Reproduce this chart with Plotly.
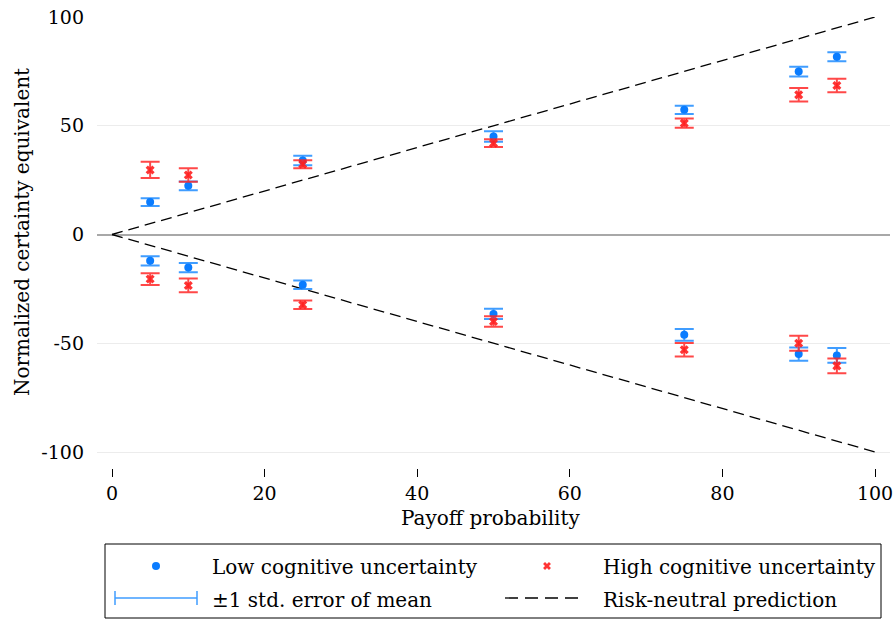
import plotly.graph_objects as go

# Payoff probabilities (percent)
prob = [5, 10, 25, 50, 75, 90, 95]

# Gain lotteries: mean normalized certainty equivalent and standard error
low_gain = [14.9, 22.4, 34.0, 45.1, 57.3, 74.9, 81.7]
low_gain_se = [1.75, 2.0, 2.2, 2.4, 1.9, 2.2, 2.1]
high_gain = [29.7, 27.4, 32.3, 42.0, 51.2, 64.2, 68.5]
high_gain_se = [3.7, 3.1, 1.8, 1.8, 2.1, 3.1, 3.1]

# Loss lotteries
low_loss = [-12.1, -15.2, -23.1, -36.5, -46.1, -55.0, -55.6]
low_loss_se = [2.1, 2.15, 2.0, 2.4, 2.7, 3.1, 3.4]
high_loss = [-20.5, -23.4, -32.3, -40.0, -53.0, -50.0, -60.4]
high_loss_se = [2.7, 3.2, 2.0, 2.4, 3.1, 3.4, 3.4]

# Risk-neutral benchmark
rn_x = [0, 100]
rn_gain = [0, 100]
rn_loss = [0, -100]

# Axis ticks
x_ticks = [0, 20, 40, 60, 80, 100]
y_ticks = [-100, -50, 0, 50, 100]
y_tick_text = ["-100", "-50", "0", "50", "100"]

# Legend entries
legend_labels = ["Low cognitive uncertainty", "High cognitive uncertainty",
                 "\u00b11 std. error of mean", "Risk-neutral prediction"]

W, H = 893, 621
FONT = "DejaVu Serif"
BLUE = "#0a7cff"
BLUE_BAR = "rgba(30,140,255,0.85)"
RED = "rgba(255,30,30,0.9)"
RED_BAR = "rgba(255,40,40,0.85)"
DASH = "11px,6px"


def px_x(p):
    return p / W


def px_y(p):
    return 1 - p / H


fig = go.Figure()

# Risk-neutral prediction lines
for yy in (rn_gain, rn_loss):
    fig.add_trace(go.Scatter(x=rn_x, y=yy, mode="lines",
                             line=dict(color="black", width=1.3, dash=DASH),
                             showlegend=False, hoverinfo="skip"))

# Low cognitive uncertainty
for yy, se in ((low_gain, low_gain_se), (low_loss, low_loss_se)):
    fig.add_trace(go.Scatter(
        x=prob, y=yy, mode="markers",
        marker=dict(symbol="circle", size=8, color=BLUE),
        error_y=dict(type="data", array=se, visible=True, width=9.5,
                     thickness=2, color=BLUE_BAR),
        showlegend=False, cliponaxis=False))

# High cognitive uncertainty
for yy, se in ((high_gain, high_gain_se), (high_loss, high_loss_se)):
    fig.add_trace(go.Scatter(
        x=prob, y=yy, mode="markers",
        marker=dict(symbol="x", size=8, color=RED, line=dict(width=0)),
        error_y=dict(type="data", array=se, visible=True, width=9.5,
                     thickness=2, color=RED_BAR),
        showlegend=False, cliponaxis=False))

# Plot region in pixels
PL, PR, PT, PB = 97, 890, 17, 468
y_low = -100 - (PB - 452) / ((452 - 17) / 200)

# Legend box region in pixels (key axes use pixel units)
LL, LR, LT, LB = 105, 881, 544, 618
row1, row2 = 566, 598

fig.add_trace(go.Scatter(x=[156], y=[row1], mode="markers",
                         marker=dict(symbol="circle", size=8, color=BLUE),
                         xaxis="x2", yaxis="y2", showlegend=False,
                         hoverinfo="skip"))
fig.add_trace(go.Scatter(x=[547], y=[row1], mode="markers",
                         marker=dict(symbol="x", size=7, color=RED,
                                     line=dict(width=0)),
                         xaxis="x2", yaxis="y2", showlegend=False,
                         hoverinfo="skip"))
fig.add_trace(go.Scatter(x=[156], y=[row2], mode="markers",
                         marker=dict(size=1, opacity=0),
                         error_x=dict(type="data", array=[41], visible=True,
                                      width=7, thickness=1.5, color=BLUE_BAR),
                         xaxis="x2", yaxis="y2", showlegend=False,
                         hoverinfo="skip"))
fig.add_trace(go.Scatter(x=[505, 581], y=[row2, row2], mode="lines",
                         line=dict(color="black", width=1.3, dash="13px,7px"),
                         xaxis="x2", yaxis="y2", showlegend=False,
                         hoverinfo="skip"))

annotations = [
    dict(text="Normalized certainty equivalent", x=px_x(22), y=px_y(232),
         textangle=-90, showarrow=False, xanchor="center", yanchor="middle",
         font=dict(size=20)),
    dict(text="Payoff probability", x=px_x(491), y=px_y(518),
         showarrow=False, xanchor="center", yanchor="middle",
         font=dict(size=20)),
]
label_pos = [(210, row1 + 1), (601, row1 + 1), (210, row2 + 2), (601, row2 + 2)]
for lab, (lx, ly) in zip(legend_labels, label_pos):
    annotations.append(dict(text=lab, x=px_x(lx), y=px_y(ly), showarrow=False,
                            xanchor="left", yanchor="middle",
                            font=dict(size=20)))
for a in annotations:
    a.update(xref="paper", yref="paper")

fig.update_layout(
    width=W, height=H,
    margin=dict(l=0, r=0, t=0, b=0, autoexpand=False),
    paper_bgcolor="white", plot_bgcolor="white",
    font=dict(family=FONT, color="black", size=20),
    showlegend=False,
    xaxis=dict(domain=[px_x(PL), px_x(PR)],
               range=[(PL - 112) / 7.63, (PR - 112) / 7.63],
               tickvals=x_ticks, ticks="outside", ticklen=8, tickwidth=1,
               tickcolor="black", showgrid=False, zeroline=False,
               showline=False, tickfont=dict(size=19), automargin=False,
               ticklabeloverflow="allow"),
    yaxis=dict(domain=[px_y(PB), px_y(PT)], range=[y_low, 100],
               tickvals=y_ticks, ticktext=y_tick_text, ticks="",
               showgrid=True, gridcolor="#ececec", gridwidth=1,
               zeroline=True, zerolinecolor="#a8a8a8", zerolinewidth=1.5,
               showline=False, ticklabelstandoff=12, tickfont=dict(size=19),
               automargin=False, ticklabeloverflow="allow"),
    xaxis2=dict(domain=[px_x(LL), px_x(LR)], range=[LL, LR], visible=False,
                anchor="y2"),
    yaxis2=dict(domain=[px_y(LB), px_y(LT)], range=[LB, LT], visible=False,
                anchor="x2"),
    shapes=[dict(type="rect", xref="paper", yref="paper",
                 x0=px_x(LL), x1=px_x(LR), y0=px_y(LB), y1=px_y(LT),
                 line=dict(color="black", width=1), fillcolor="rgba(0,0,0,0)")],
    annotations=annotations,
)

fig.write_html("out.html")
